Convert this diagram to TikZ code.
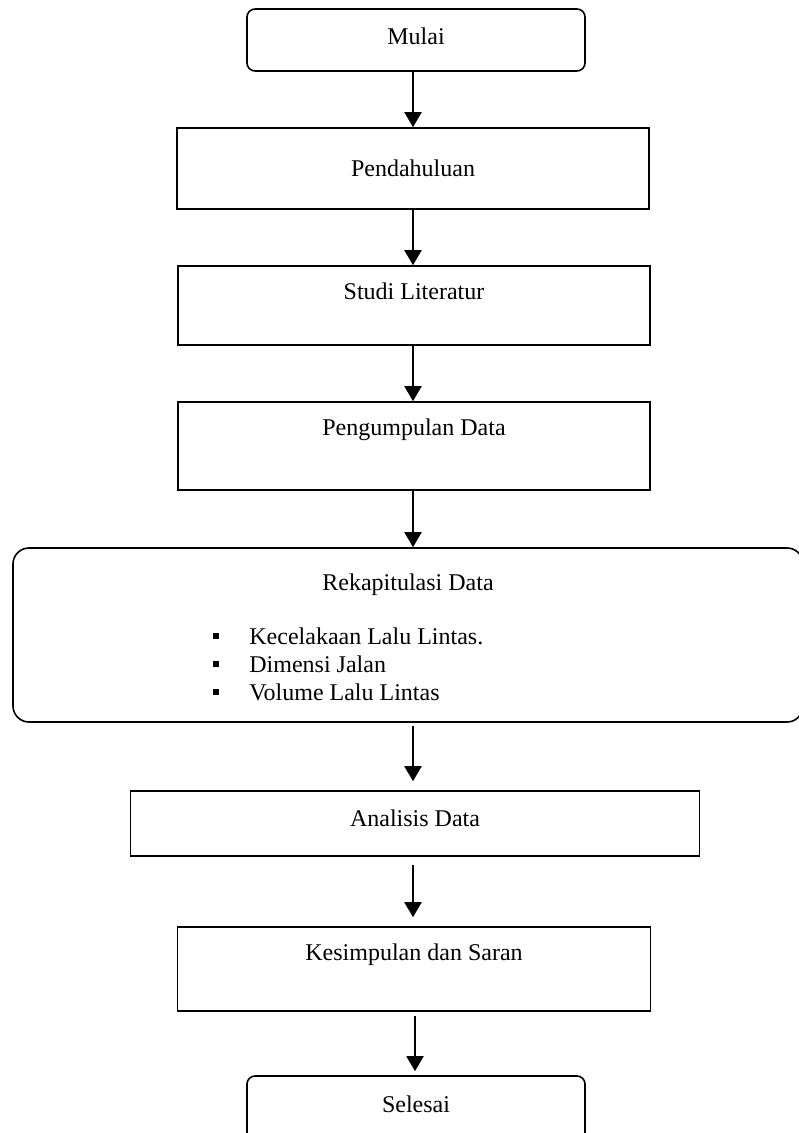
\documentclass[tikz,border=0pt]{standalone}
\usepackage{fontspec}
\setmainfont{Liberation Serif}
\usepackage{tikz}
\usetikzlibrary{arrows.meta}

\newcommand{\itembul}{\makebox[18pt][l]{\rule[2.5pt]{3pt}{3pt}}}

\begin{document}
\begin{tikzpicture}[x = 0.5pt, y = -0.5pt,
  box/.style = {draw, line width = 0.8pt, inner ysep = 0pt, minimum height = 0pt, anchor = base, font = \fontsize{12}{14}\selectfont},
  roundbox/.style = {box, rounded corners = 4pt},
  bigbox/.style = {box, rounded corners = 8pt},
  item/.style = {inner sep = 0pt, anchor = base west, font = \fontsize{12}{14}\selectfont},
  arrow/.style = {line width = 1pt, -{Triangle[width = 8.5pt, length = 7.5pt]}}]
\useasboundingbox (0,0) rectangle (798,1133);
\node [roundbox, minimum width = 169pt, text height = 18pt, text depth = 13pt] (mulai) at (416,45) {Mulai};
\node [box, minimum width = 236pt, text height = 24.5pt, text depth = 16pt] (pendahuluan) at (413,177) {Pendahuluan};
\node [box, minimum width = 236pt, text height = 17pt, text depth = 22.5pt] (studi) at (414,300) {Studi Literatur};
\node [box, minimum width = 236pt, text height = 17pt, text depth = 27pt] (pengumpulan) at (414,436) {Pengumpulan Data};
\node [bigbox, minimum width = 395pt, text height = 21pt, text depth = 66pt] (rekap) at (408,590) {Rekapitulasi Data};
\node [item] (kecelakaan) at (213,644) {\itembul Kecelakaan Lalu Lintas.};
\node [item] (dimensi) at (213,672) {\itembul Dimensi Jalan};
\node [item] (volume) at (213,700) {\itembul Volume Lalu Lintas};
\node [box, minimum width = 284.5pt, text height = 17.5pt, text depth = 15pt] (analisis) at (415,826) {Analisis Data};
\node [box, minimum width = 236.5pt, text height = 16.5pt, text depth = 25.5pt] (kesimpulan) at (414,960) {Kesimpulan dan Saran};
\node [roundbox, minimum width = 169pt, text height = 18pt, text depth = 19pt] (selesai) at (416,1112) {Selesai};
\draw [arrow] (mulai.south -| 413,0) -- (pendahuluan.north -| 413,0);
\draw [arrow] (pendahuluan.south -| 413,0) -- (studi.north -| 413,0);
\draw [arrow] (studi.south -| 413,0) -- (pengumpulan.north -| 413,0);
\draw [arrow] (pengumpulan.south -| 413,0) -- (rekap.north -| 413,0);
\draw [arrow, shorten <= 1.5pt, shorten >= 4.5pt] (rekap.south -| 413,0) -- (analisis.north -| 413,0);
\draw [arrow, shorten <= 4pt, shorten >= 4.5pt] (analisis.south -| 413,0) -- (kesimpulan.north -| 413,0);
\draw [arrow, shorten <= 2pt, shorten >= 2pt] (kesimpulan.south -| 415,0) -- (selesai.north -| 415,0);
\end{tikzpicture}
\end{document}
